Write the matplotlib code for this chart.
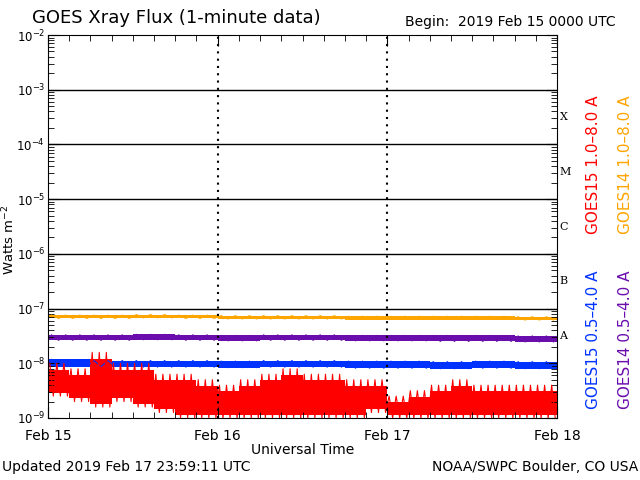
import numpy as np
import matplotlib.pyplot as plt
from matplotlib.ticker import FixedLocator, NullFormatter

# log10 flux envelopes (3-hour bins for red, 6-hour for the rest)
hours3 = np.arange(0, 75, 3)
red_hi = [-8.0, -8.1, -7.8, -8.0, -8.0, -8.2, -8.2, -8.3, -8.4, -8.3, -8.2, -8.1,
          -8.2, -8.2, -8.3, -8.3, -8.6, -8.5, -8.4, -8.3, -8.4, -8.4, -8.4, -8.4]
red_lo = [-8.6, -8.7, -8.8, -8.7, -8.8, -8.9, -9.0, -9.0, -9.0, -9.0, -9.0, -9.0,
          -9.0, -9.0, -9.0, -8.9, -9.0, -9.0, -9.0, -9.0, -9.0, -9.0, -9.0, -9.0]

hours6 = np.arange(0, 78, 6)
orange_hi = [-7.12, -7.12, -7.11, -7.12, -7.13, -7.13, -7.13, -7.14, -7.14, -7.14, -7.14, -7.15]
orange_lo = [-7.18, -7.18, -7.17, -7.18, -7.19, -7.19, -7.19, -7.20, -7.20, -7.20, -7.20, -7.21]
purple_hi = [-7.48, -7.48, -7.47, -7.48, -7.49, -7.48, -7.48, -7.49, -7.49, -7.49, -7.49, -7.50]
purple_lo = [-7.58, -7.58, -7.57, -7.58, -7.59, -7.58, -7.58, -7.59, -7.59, -7.60, -7.60, -7.61]
blue_hi = [-7.93, -7.95, -7.95, -7.95, -7.96, -7.95, -7.95, -7.96, -7.96, -7.97, -7.96, -7.97]
blue_lo = [-8.06, -8.06, -8.07, -8.07, -8.08, -8.07, -8.07, -8.09, -8.09, -8.10, -8.09, -8.10]

day_labels = ['Feb 15', 'Feb 16', 'Feb 17', 'Feb 18']

fig = plt.figure(figsize=(6.4, 4.8), dpi=100)
ax = fig.add_axes([48/640, 62/480, 509/640, 383/480])

def band(x, lo, hi, color):
    # noisy trace drawn as a zig-zag between bin low and high
    xs, ys = [], []
    for i in range(len(lo)):
        for k in range(6):
            xs.append(x[i] + (x[1] - x[0]) * (k + 0.5) / 6)
            ys.append(10.0**(hi[i] if k % 2 == 0 else lo[i]))
    ax.plot(xs, ys, color=color, lw=0.8)
    shrink_lo, shrink_hi = (1.15, 1.3) if color == 'red' else (1.0, 1.0)
    ax.fill_between(np.append(x[:len(lo)], x[len(lo)]),
                    10.0**np.append(lo, lo[-1]) * shrink_lo,
                    10.0**np.append(hi, hi[-1]) / shrink_hi,
                    step='post', color=color, lw=0)

band(hours6, orange_lo, orange_hi, '#ffa500')
band(hours6, purple_lo, purple_hi, '#6a0dad')
band(hours6, blue_lo, blue_hi, '#0033ff')
band(hours3, red_lo, red_hi, 'red')

ax.set_yscale('log')
ax.set_ylim(1e-9, 1e-2)
ax.set_xlim(0, 72)
for e in range(-7, -2):
    ax.axhline(10.0**e, color='black', lw=1)
for d in (24, 48):
    ax.axvline(d, color='black', lw=1.5, ls=(0, (1, 2.5)))

ax.set_xticks([0, 24, 48, 72])
ax.set_xticklabels(day_labels, fontsize=10)
ax.xaxis.set_minor_locator(FixedLocator(np.arange(0, 73, 3)))
ax.tick_params(which='both', direction='in', top=True, right=True)
ax.tick_params(which='major', length=8)
ax.tick_params(which='minor', length=4)
ax.tick_params(axis='x', pad=8)
ax.tick_params(axis='y', pad=2)
ax.yaxis.set_minor_formatter(NullFormatter())
ax.set_yticks([10.0**e for e in range(-9, -1)])
ax.set_yticklabels([r'$10^{%d}$' % e for e in range(-9, -1)], fontsize=8.5)
ax.set_xlabel('Universal Time', fontsize=10, labelpad=0)
fig.text(9/640, 1 - 240/480, r'Watts m$^{-2}$', fontsize=9.5, rotation=90, ha='center', va='center')

for letter, e in zip('XMCBA', (-3.5, -4.5, -5.5, -6.5, -7.5)):
    ax.text(1.005, (e + 9) / 7, letter, transform=ax.transAxes, fontsize=8,
            family='serif', va='center')

fig.text(594/640, 1 - 165/480, 'GOES15 1.0–8.0 A', color='red', rotation=90, ha='center', va='center', fontsize=11)
fig.text(626/640, 1 - 165/480, 'GOES14 1.0–8.0 A', color='#ffa500', rotation=90, ha='center', va='center', fontsize=11)
fig.text(594/640, 1 - 340/480, 'GOES15 0.5–4.0 A', color='#0033ff', rotation=90, ha='center', va='center', fontsize=11)
fig.text(626/640, 1 - 340/480, 'GOES14 0.5–4.0 A', color='#6a0dad', rotation=90, ha='center', va='center', fontsize=11)

fig.text(32/640, 1 - 18/480, 'GOES Xray Flux (1-minute data)', fontsize=13, va='center')
fig.text(405/640, 1 - 22/480, 'Begin:  2019 Feb 15 0000 UTC', fontsize=10, va='center')
fig.text(2/640, 1 - 467/480, 'Updated 2019 Feb 17 23:59:11 UTC', fontsize=10, va='center')
fig.text(638/640, 1 - 467/480, 'NOAA/SWPC Boulder, CO USA', fontsize=10, va='center', ha='right')

fig.savefig('out.png', dpi=100)
